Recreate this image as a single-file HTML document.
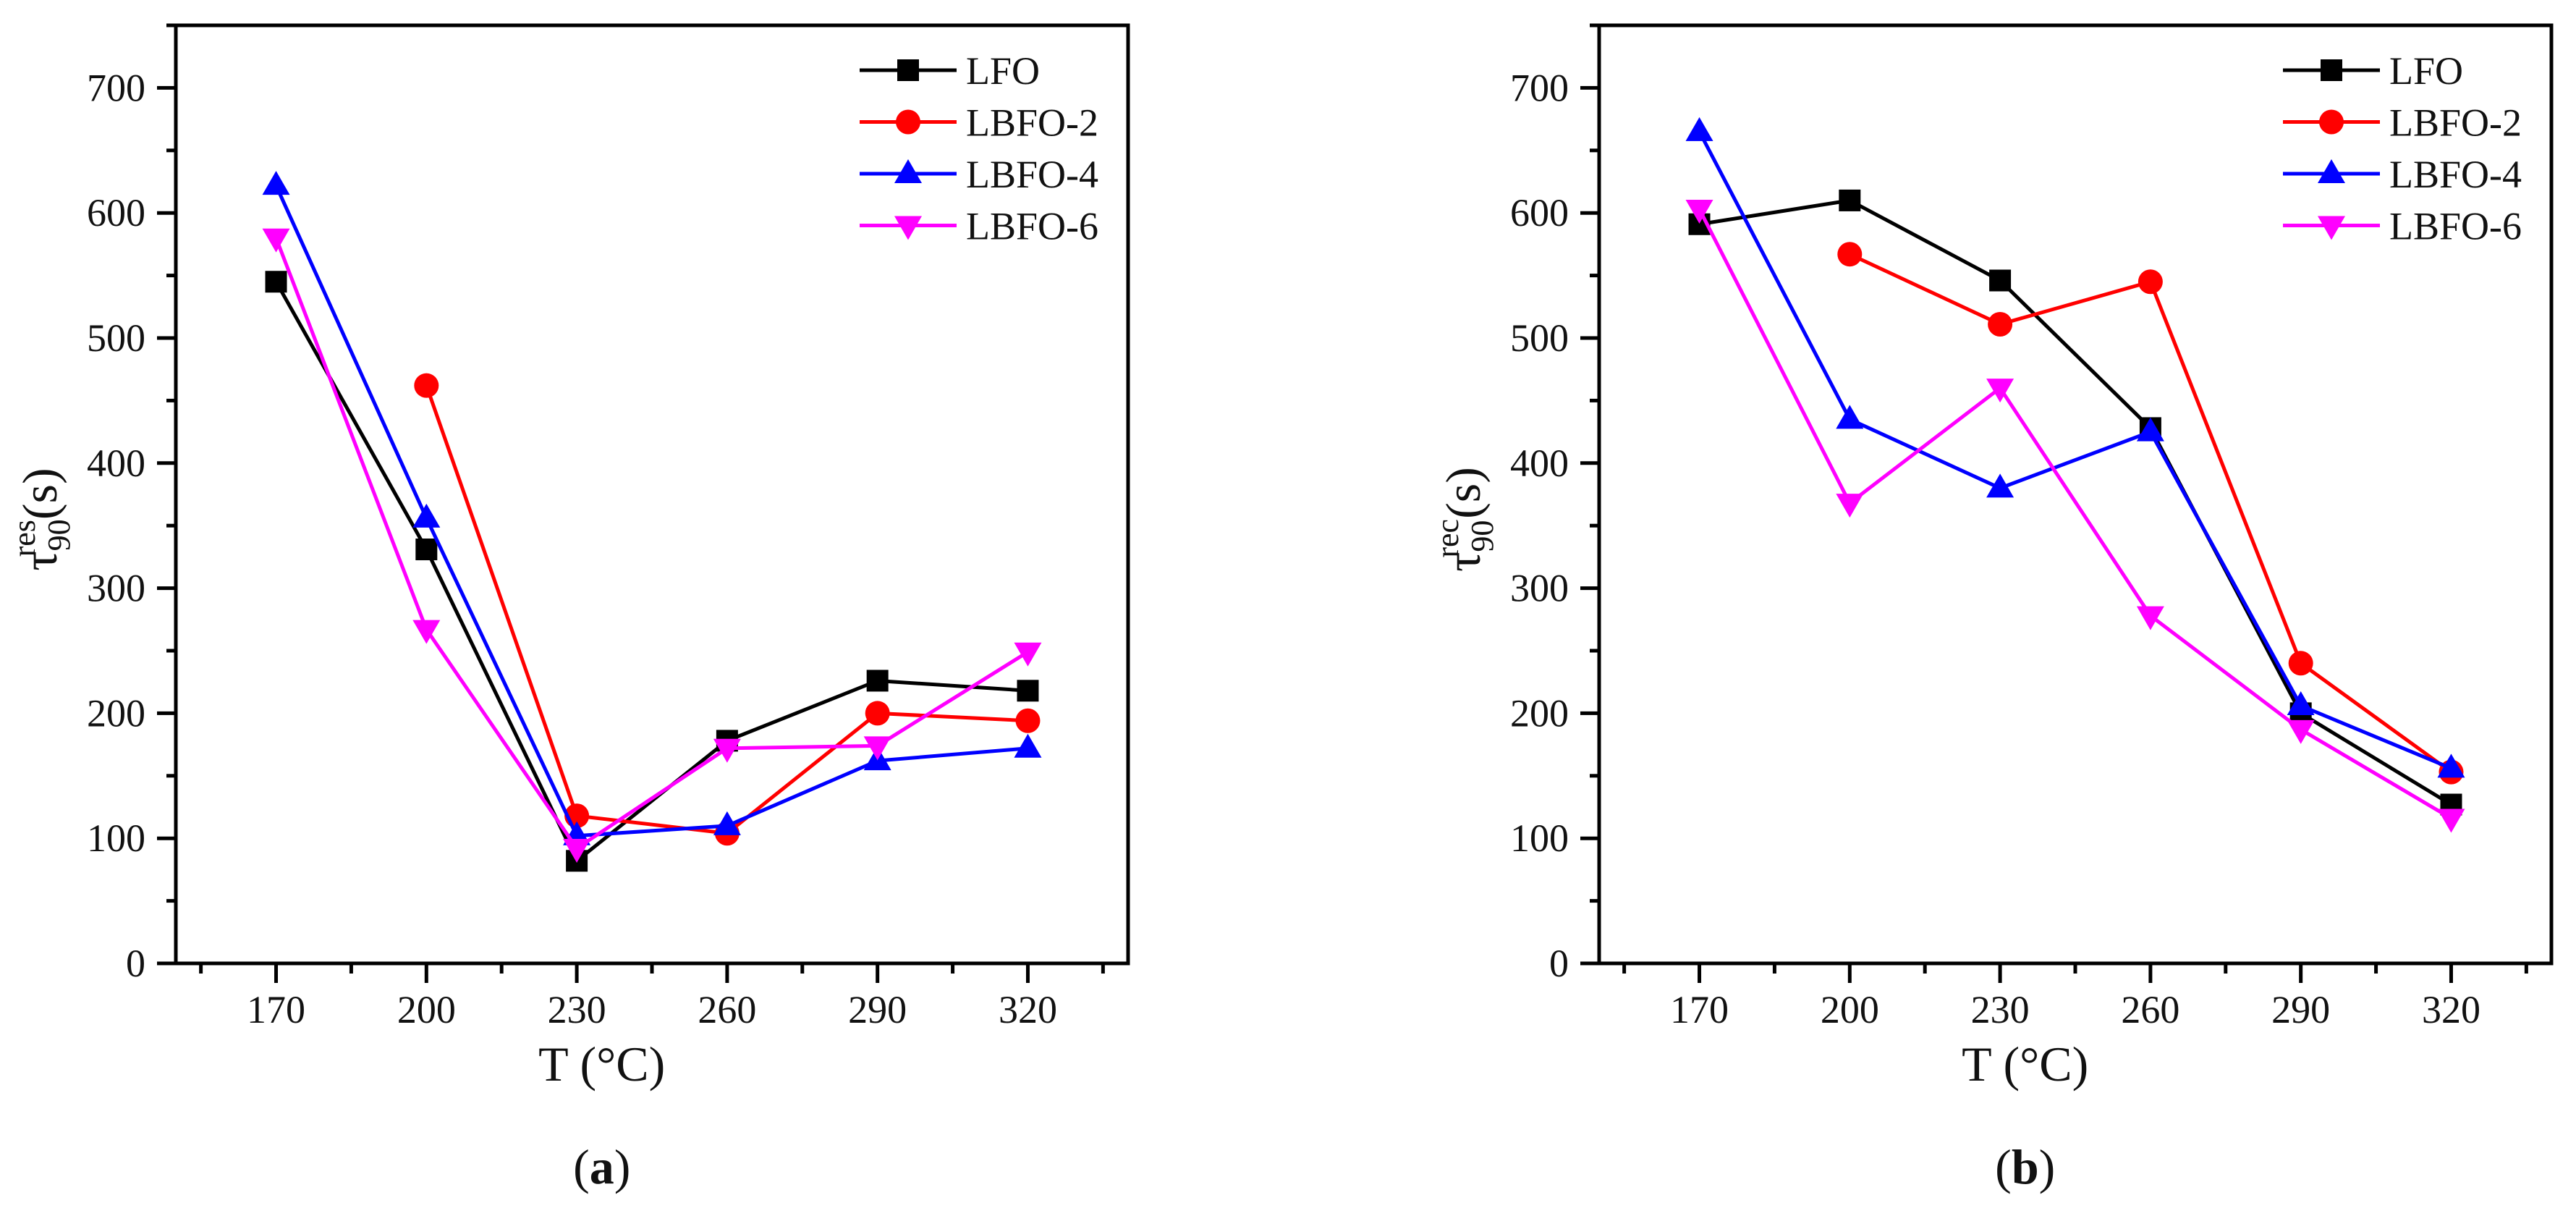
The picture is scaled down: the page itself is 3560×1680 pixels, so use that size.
<!DOCTYPE html>
<html><head><meta charset="utf-8">
<style>
html,body{margin:0;padding:0;background:#fff;}
svg{display:block;font-family:"Liberation Serif",serif;}
</style></head>
<body>
<svg id="fig" width="3560" height="1680" viewBox="0 0 3560 1680" xmlns="http://www.w3.org/2000/svg"></svg>
<script>
const categories = [170, 200, 230, 260, 290, 320];
const xTickLabels = ["170","200","230","260","290","320"];
const yTickLabels = ["0","100","200","300","400","500","600","700"];
const seriesNames = ["LFO","LBFO-2","LBFO-4","LBFO-6"];
const seriesColors = ["#000000","#ff0000","#0000ff","#ff00ff"];
const seriesMarkers = ["square","circle","up","down"];
const aLFO = [545, 331, 82, 178, 226, 218];
const aLBFO2 = [null, 462, 118, 104, 200, 194];
const aLBFO4 = [622, 356, 102, 110, 162, 172];
const aLBFO6 = [580, 267, 92, 172, 174, 249];
const bLFO = [591, 610, 546, 428, 200, 127];
const bLBFO2 = [null, 567, 511, 545, 240, 153];
const bLBFO4 = [665, 435, 380, 425, 206, 156];
const bLBFO6 = [603, 368, 460, 278, 187, 116];

const NS = "http://www.w3.org/2000/svg";
const svg = document.getElementById('fig');
function mk(tag, attrs, parent){const e=document.createElementNS(NS,tag);for(const k in attrs)e.setAttribute(k,attrs[k]);(parent||svg).appendChild(e);return e;}

function marker(g, type, cx, cy, color){
  let e;
  if(type==="square"){e=mk('rect',{x:cx-15,y:cy-15,width:30,height:30,fill:color},g);}
  else if(type==="circle"){e=mk('circle',{cx:cx,cy:cy,r:17,fill:color},g);}
  else if(type==="up"){e=mk('polygon',{points:`${cx},${cy-20} ${cx-19},${cy+13} ${cx+19},${cy+13}`,fill:color},g);}
  else {e=mk('polygon',{points:`${cx},${cy+20} ${cx-19},${cy-13} ${cx+19},${cy-13}`,fill:color},g);}
  
  
}

function panel(off, data, sup, letter){
  const L=243+off, R=1559+off, T=35, B=1331;
  const xmin=150, xmax=340, ymax=750;
  const X=v=>L+(v-xmin)/(xmax-xmin)*(R-L);
  const Y=v=>B-v/ymax*(B-T);
  const g=mk('g',{});
  
  
  const frame=mk('rect',{x:L,y:T,width:R-L,height:B-T,fill:'none',stroke:'#000','stroke-width':5},g);
  
  
  for(let v=0; v<=ymax; v+=50){
    const major = v%100===0;
    mk('line',{x1:L-(major?26:13),x2:L,y1:Y(v),y2:Y(v),stroke:'#000','stroke-width':5},g);
  }
  yTickLabels.forEach((t,i)=>{
    const tx=mk('text',{x:L-42,y:Y(i*100)+18,'font-size':54,'text-anchor':'end',fill:'#111'},g);
    tx.textContent=t;
    
    
  });
  for(let v=155; v<=335; v+=15){
    const major = (v-170)%30===0;
    mk('line',{x1:X(v),x2:X(v),y1:B,y2:B+(major?27:14),stroke:'#000','stroke-width':5},g);
  }
  categories.forEach((c,i)=>{
    const tx=mk('text',{x:X(c),y:1413,'font-size':54,'text-anchor':'middle',fill:'#111'},g);
    tx.textContent=xTickLabels[i];
    
    
  });
  const xt=mk('text',{x:X(235),y:1493,'font-size':68,'text-anchor':'middle',fill:'#111'},g);
  xt.textContent='T (°C)';
  
  
  const yt=mk('text',{transform:`translate(${L-165},${Y(355)}) rotate(-90)`,'font-size':68,'text-anchor':'middle',fill:'#111'},g);
  yt.innerHTML=`τ<tspan font-size="44" dy="18">90</tspan><tspan font-size="44" dx="-52" dy="-48">${sup}</tspan><tspan dy="30">(s)</tspan>`;
  
  
  const lt=mk('text',{x:X(235),y:1635,'font-size':68,'text-anchor':'middle',fill:'#111'},g);
  lt.innerHTML=`(<tspan font-weight="bold">${letter}</tspan>)`;
  
  
  data.forEach((vals,si)=>{
    const sg=mk('g',{},g);
    
    
    const pts=[];
    vals.forEach((v,i)=>{if(v!==null)pts.push([X(categories[i]),Y(v)]);});
    const pl=mk('polyline',{points:pts.map(p=>p.join(',')).join(' '),fill:'none',stroke:seriesColors[si],'stroke-width':5},sg);
    
    
    pts.forEach(p=>marker(sg,seriesMarkers[si],p[0],p[1],seriesColors[si]));
  });
  const lg=mk('g',{},g);
  
  
  seriesNames.forEach((n,i)=>{
    const y=97+i*71.5;
    const eg=mk('g',{},lg);
    
    
    mk('line',{x1:1188+off,x2:1322+off,y1:y,y2:y,stroke:seriesColors[i],'stroke-width':5},eg);
    marker(eg,seriesMarkers[i],1255+off,y,seriesColors[i]);
    const t=mk('text',{x:1335+off,y:y+19,'font-size':54,fill:'#111'},eg);
    t.textContent=n;
  });
}
panel(0,[aLFO,aLBFO2,aLBFO4,aLBFO6],'res','a');
panel(1967,[bLFO,bLBFO2,bLBFO4,bLBFO6],'rec','b');
</script>
</body></html>
